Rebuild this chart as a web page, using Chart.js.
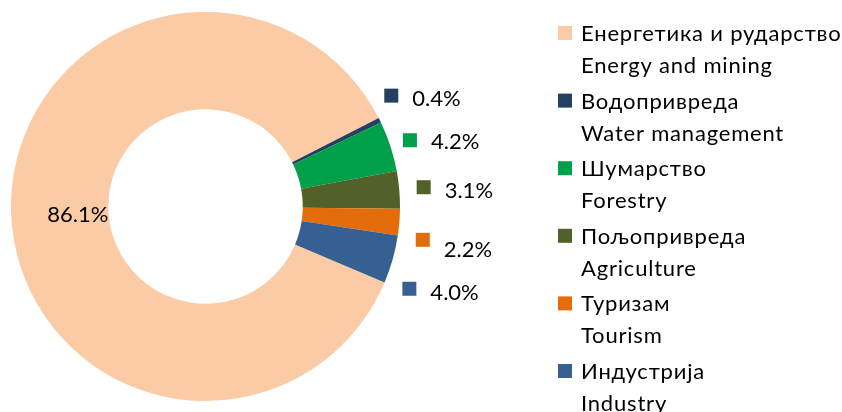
<!DOCTYPE html>
<html>
<head>
<meta charset="utf-8">
<script src="https://cdn.jsdelivr.net/npm/chart.js@4"></script>
<style>
  html, body { margin: 0; padding: 0; background: #fff; }
  #wrap { width: 842px; height: 412px; }
</style>
</head>
<body>
<div id="wrap"><canvas id="chart" width="842" height="412"></canvas></div>
<script>
const sectorsSr = ['Енергетика и рударство', 'Водопривреда', 'Шумарство', 'Пољопривреда', 'Туризам', 'Индустрија'];
const sectorsEn = ['Energy and mining', 'Water management', 'Forestry', 'Agriculture', 'Tourism', 'Industry'];
const shares = [86.1, 0.4, 4.2, 3.1, 2.2, 4.0];
const colors = ['#FACBA5', '#254061', '#00A04A', '#516129', '#E46C0A', '#376092'];

// label nudges [dx, dy, text dy] - the Excel labels were dragged around a bit
const labelNudge = [[18, 2.5, 0], [-6, -16, 2], [1, 0, 1], [5, -1, 3], [4, 16, 9], [-2, 24, 3]];

const FONT = '22px Lato, "Noto Sans", sans-serif';
const CAP = 15.8; // approx cap height at that size

const pctLabels = {
  id: 'pctLabels',
  afterDatasetsDraw(chart) {
    const ctx = chart.ctx;
    const arcs = chart.getDatasetMeta(0).data;
    ctx.save();
    ctx.font = FONT;
    arcs.forEach((arc, i) => {
      const p = arc.getProps(['x', 'y', 'startAngle', 'endAngle', 'innerRadius', 'outerRadius'], true);
      const mid = (p.startAngle + p.endAngle) / 2;
      const text = shares[i].toFixed(1) + '%';
      const [dx, dy, tdy] = labelNudge[i];
      if (i === 0) {
        // big slice gets its label inside the ring
        const r = (p.innerRadius + p.outerRadius) / 2;
        ctx.fillStyle = '#000';
        ctx.textAlign = 'center';
        ctx.fillText(text, p.x + Math.cos(mid) * r + dx, p.y + Math.sin(mid) * r + dy + CAP / 2);
        return;
      }
      const r = p.outerRadius * 1.1;
      const cx = p.x + Math.cos(mid) * r + dx;
      const cy = p.y + Math.sin(mid) * r + dy;
      ctx.fillStyle = colors[i];
      ctx.fillRect(cx - 7, cy - 7, 14, 14);
      ctx.fillStyle = '#000';
      ctx.textAlign = 'left';
      ctx.fillText(text, cx + 21, cy + tdy + CAP / 2);
    });
    ctx.restore();
  }
};

// two-line legend on the right (Chart.js legend can't do this layout)
const sideLegend = {
  id: 'sideLegend',
  afterDraw(chart) {
    const ctx = chart.ctx;
    ctx.save();
    ctx.font = FONT;
    ctx.letterSpacing = '0.8px';
    ctx.textAlign = 'left';
    sectorsSr.forEach((name, i) => {
      const y = 33 + i * 67.6;
      ctx.fillStyle = colors[i];
      ctx.fillRect(558, y - 7, 14, 14);
      ctx.fillStyle = '#000';
      ctx.fillText(name, 581, y + CAP / 2);
      ctx.fillText(sectorsEn[i], 581, y + 32 + CAP / 2);
    });
    ctx.restore();
  }
};

new Chart(document.getElementById('chart'), {
  type: 'doughnut',
  data: {
    labels: sectorsEn,
    datasets: [{
      data: shares,
      backgroundColor: colors,
      borderWidth: 0,
      hoverOffset: 0
    }]
  },
  options: {
    responsive: false,
    animation: false,
    cutout: '50%',
    rotation: 113,
    layout: { padding: { left: 11, right: 442, top: 12, bottom: 11 } },
    plugins: {
      legend: { display: false },
      tooltip: { enabled: false }
    }
  },
  plugins: [pctLabels, sideLegend]
});
</script>
</body>
</html>
